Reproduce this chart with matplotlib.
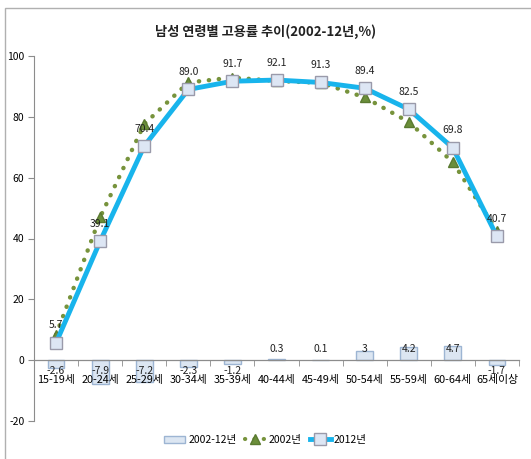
import matplotlib
matplotlib.use("Agg")
import matplotlib.pyplot as plt
from matplotlib.patches import Rectangle
from matplotlib.lines import Line2D
import numpy as np

plt.rcParams['font.family'] = ['Noto Sans CJK KR', 'DejaVu Sans']

categories = ['15-19세', '20-24세', '25-29세', '30-34세', '35-39세', '40-44세',
              '45-49세', '50-54세', '55-59세', '60-64세', '65세이상']
rate_2012 = [5.7, 39.1, 70.4, 89.0, 91.7, 92.1, 91.3, 89.4, 82.5, 69.8, 40.7]
rate_2002 = [8.3, 47.0, 77.6, 91.3, 92.9, 91.8, 91.2, 86.4, 78.3, 65.1, 42.4]
change = [-2.6, -7.9, -7.2, -2.3, -1.2, 0.3, 0.1, 3, 4.2, 4.7, -1.7]
change_labels = ['-2.6', '-7.9', '-7.2', '-2.3', '-1.2', '0.3', '0.1', '3', '4.2', '4.7', '-1.7']
yticks = [-20, 0, 20, 40, 60, 80, 100]

fig = plt.figure(figsize=(5.31, 4.59), dpi=100)
fig.patches.append(Rectangle((5 / 531, -0.1), 1.2, 1 - 8 / 459 + 0.1,
                             transform=fig.transFigure, fill=False,
                             edgecolor='#B0B0B0', linewidth=1.0))

ax = fig.add_axes([34 / 531, 1 - 421 / 459, 485 / 531, 365 / 459])
x = np.arange(len(categories))

ax.bar(x, change, width=0.38, color='#DCE6F2', edgecolor='#9DB5D3',
       linewidth=1.0, zorder=2, label='2002-12년')
for xi, lab, v in zip(x, change_labels, change):
    yy = 3.8 if v > 0 else -3.6
    ax.text(xi, yy, lab, ha='center', va='center', fontsize=7.5, color='#222222', zorder=6)

ax.plot(x, rate_2002, color='#77933C', linewidth=3.2, linestyle=(0, (0.05, 2.2)),
        dash_capstyle='round', marker='^', markersize=7, markerfacecolor='#6B8E3A',
        markeredgecolor='#5A7A30', zorder=3, label='2002년')
ax.plot(x, rate_2012, color='#18B4EC', linewidth=3.5, marker='s', markersize=9,
        markerfacecolor='#DDE6F4', markeredgecolor='#9A9AAA', markeredgewidth=1.0,
        zorder=4, label='2012년')
for xi, v in zip(x, rate_2012):
    ax.annotate(f'{v:.1f}', (xi, v), xytext=(0, 9), textcoords='offset points',
                ha='center', va='bottom', fontsize=7.5, color='#222222', zorder=6)

ax.set_xlim(-0.5, len(categories) - 0.5)
ax.set_ylim(-20, 100)
ax.set_yticks(yticks)
ax.set_yticklabels([str(t) for t in yticks], fontsize=7.5)

# category axis sits on the zero line, drawn over the bars
ax.spines['bottom'].set_position(('data', 0))
ax.spines['bottom'].set_color('#8C8C8C')
ax.spines['bottom'].set_linewidth(0.9)
ax.xaxis.set_zorder(5)
ax.set_xticks(x)
ax.set_xticklabels(categories, fontsize=7.8)
ax.tick_params(axis='x', which='major', length=0, pad=11)
ax.set_xticks(np.arange(-0.5, len(categories), 1), minor=True)
ax.tick_params(axis='x', which='minor', length=4, color='#8C8C8C')
ax.tick_params(axis='y', length=4, color='#8C8C8C', pad=3)

for s in ['top', 'right']:
    ax.spines[s].set_visible(False)
ax.spines['left'].set_color('#8C8C8C')

fig.text(0.5, 1 - 32 / 459, '남성 연령별 고용률 추이(2002-12년,%)', ha='center', va='center',
         fontsize=9.5, fontweight='bold', color='#222222')

handles = [
    Rectangle((0, 0), 1, 1, facecolor='#DCE6F2', edgecolor='#9DB5D3'),
    Line2D([], [], color='#77933C', linewidth=3, linestyle=(0, (0.05, 2.2)),
           dash_capstyle='round', marker='^', markersize=7,
           markerfacecolor='#6B8E3A', markeredgecolor='#5A7A30'),
    Line2D([], [], color='#18B4EC', linewidth=3.5, marker='s', markersize=8,
           markerfacecolor='#DDE6F4', markeredgecolor='#9A9AAA'),
]
fig.legend(handles, ['2002-12년', '2002년', '2012년'], loc='center',
           bbox_to_anchor=(0.5, 1 - 440 / 459), ncol=3, frameon=False,
           fontsize=7.5, handlelength=2.0, columnspacing=0.8, handletextpad=0.3)

fig.savefig('out.png', dpi=100)
